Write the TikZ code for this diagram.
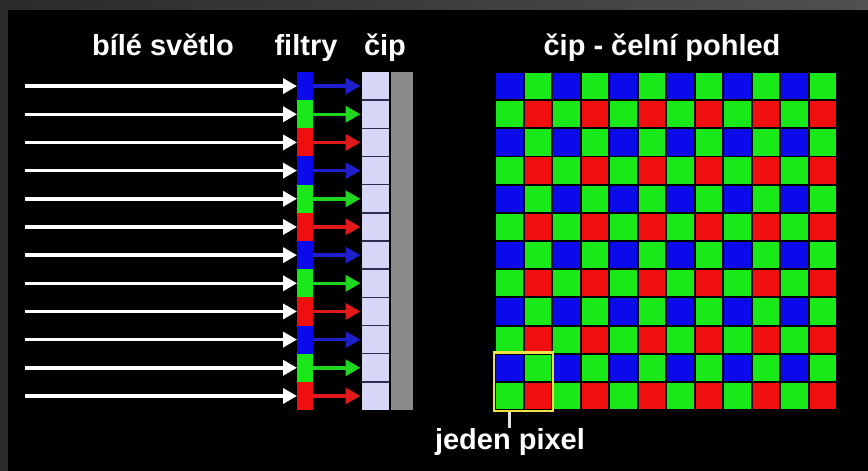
\documentclass[tikz,border=0pt]{standalone}
\usepackage{fontspec}
\setmainfont{Liberation Sans}
\usetikzlibrary{arrows.meta,fit}
\definecolor{framegray}{RGB}{42,42,42}
\definecolor{framegraytwo}{RGB}{80,80,80}
\definecolor{fblue}{RGB}{10,10,235}
\definecolor{fgreen}{RGB}{25,232,25}
\definecolor{fred}{RGB}{240,15,15}
\definecolor{ablue}{RGB}{30,30,205}
\definecolor{agreen}{RGB}{30,215,30}
\definecolor{ared}{RGB}{225,25,25}
\definecolor{chiplav}{RGB}{214,214,246}
\definecolor{chipgray}{RGB}{138,138,138}
\definecolor{sepcol}{RGB}{45,45,80}
\definecolor{pixyellow}{RGB}{240,225,70}
\definecolor{tickcol}{RGB}{225,225,225}
\begin{document}
\begin{tikzpicture}[x=1pt,y=-1pt,
  cell/.style={inner sep=0pt,outer sep=0pt,minimum width=26.5pt,minimum height=26.2pt},
  filt/.style={inner sep=0pt,outer sep=0pt,minimum width=16pt,minimum height=28.2pt},
  chipcell/.style={inner sep=0pt,outer sep=0pt,minimum width=27pt,minimum height=28.2pt,fill=chiplav},
  head/.style={text=white,font=\bfseries\fontsize{29}{34}\selectfont,anchor=base,inner sep=0pt},
  whitearrow/.style={draw=white,line width=3.5pt,-{Triangle[length=14pt,width=15pt]}},
  colarrow/.style={line width=3.5pt,-{Triangle[length=15pt,width=16pt]}},
  sepline/.style={draw=sepcol,line width=1.5pt},
  pixbox/.style={draw=pixyellow,line width=2.5pt,inner sep=2pt},
  tick/.style={draw=tickcol,line width=2.5pt}
]
\useasboundingbox (0,0) rectangle (868,471);
\fill[black] (0,0) rectangle (868,471);
\fill[framegray] (0,0) rectangle (8,471);
\shade[left color=framegray,right color=framegraytwo] (0,0) rectangle (868,9);

% headings
\node[head] (h1) at (163,55) {bílé světlo};
\node[head] (h2) at (306,55) {filtry};
\node[head] (h3) at (385,55) {čip};
\node[head] (h4) at (662,55) {čip - čelní pohled};

% gray back of chip
\node[inner sep=0pt,outer sep=0pt,minimum width=22pt,minimum height=338pt,fill=chipgray] (bar) at (402,241) {};

% filters, chip cells, arrows
\foreach \i/\fc/\ac in {0/fblue/ablue,1/fgreen/agreen,2/fred/ared,3/fblue/ablue,4/fgreen/agreen,5/fred/ared,6/fblue/ablue,7/fgreen/agreen,8/fred/ared,9/fblue/ablue,10/fgreen/agreen,11/fred/ared}{
  \pgfmathsetmacro\yc{72+28.17*\i+14.085}
  \node[filt,fill=\fc] (f\i) at (305,\yc) {};
  \node[chipcell] (c\i) at (375.5,\yc) {};
  \coordinate (s\i) at (25,\yc);
  \draw[whitearrow] (s\i) -- (f\i.west);
  \draw[colarrow,draw=\ac] (f\i.east) -- ([xshift=-1.5pt]c\i.west);
}
\foreach \i in {0,...,10}{
  \draw[sepline] (c\i.south west) -- (c\i.south east);
}

% front view grid
\foreach \r in {0,...,11}{
  \foreach \c in {0,...,11}{
    \pgfmathtruncatemacro\rr{mod(\r,2)}
    \pgfmathtruncatemacro\cc{mod(\c,2)}
    \ifnum\rr=0
      \ifnum\cc=0 \def\col{fblue}\else\def\col{fgreen}\fi
    \else
      \ifnum\cc=0 \def\col{fgreen}\else\def\col{fred}\fi
    \fi
    \node[cell,fill=\col] (g\r-\c) at (495+28.5*\c+14.25, 72+28.17*\r+14.085) {};
  }
}

% one pixel
\node[pixbox,fit=(g10-0)(g11-1)] (pix) {};
\node[head] (lbl) at (510,449) {jeden pixel};
\draw[tick] (g11-0.center |- pix.south) -- (g11-0.center |- lbl.north);
\end{tikzpicture}
\end{document}
